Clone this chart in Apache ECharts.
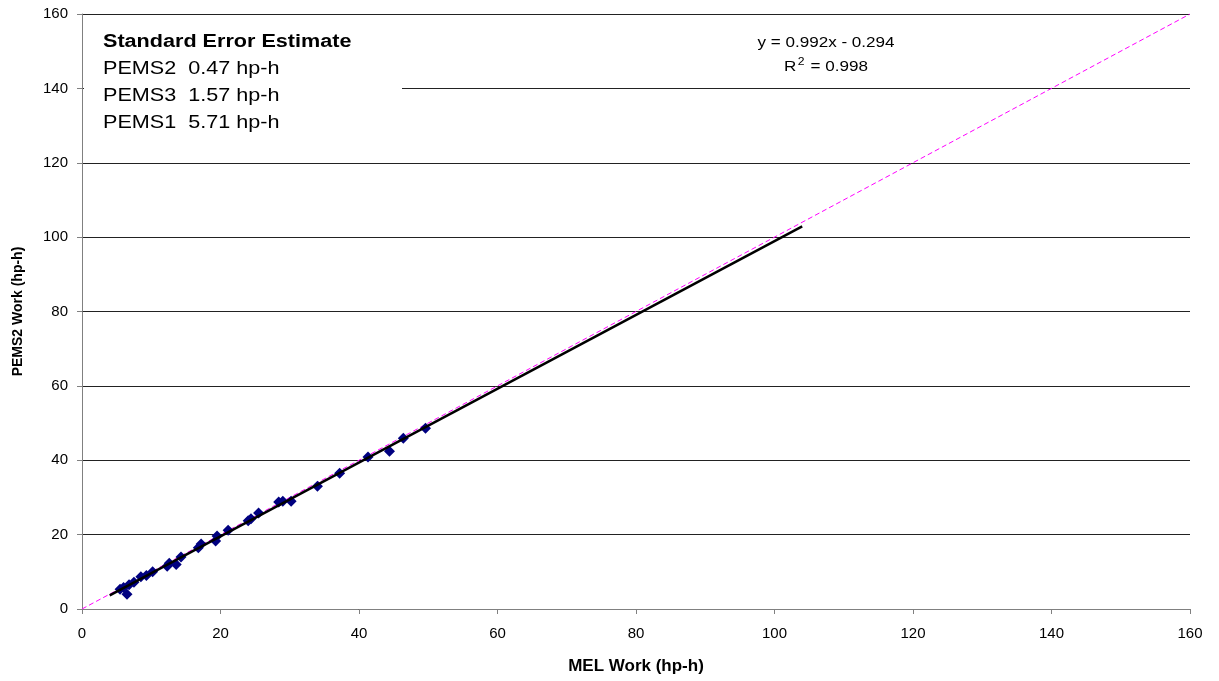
<!DOCTYPE html>
<html>
<head>
<meta charset="utf-8">
<script src="https://cdn.jsdelivr.net/npm/echarts@6/dist/echarts.min.js"></script>
<style>html,body{margin:0;padding:0;background:#fff;}#c{width:1219px;height:681px;}</style>
</head>
<body>
<div id="c"></div>
<script>
var melWork = [5.5, 6.0, 6.5, 6.8, 7.5, 8.5, 9.3, 10.2, 12.3, 12.6, 13.6, 14.3, 16.8, 17.2, 19.3, 19.5, 21.1, 24.0, 24.4, 25.5, 28.4, 29.0, 30.2, 34.0, 37.2, 41.3, 44.4, 46.4, 49.6];
var pems2Work = [5.3, 5.8, 4.0, 6.5, 7.2, 8.7, 9.0, 10.0, 11.5, 12.3, 12.0, 14.0, 16.5, 17.5, 18.3, 19.6, 21.2, 23.7, 24.3, 25.8, 28.8, 29.0, 29.0, 33.0, 36.5, 40.9, 42.4, 45.9, 48.6];
var trendLine = [[4, 3.67], [104, 102.9]];
var oneToOne = [[0, 0], [160, 160]];
var xTicks = [0, 20, 40, 60, 80, 100, 120, 140, 160];
var yTicks = [0, 20, 40, 60, 80, 100, 120, 140, 160];
var statsTitle = 'Standard Error Estimate';
var statsLines = ['PEMS2  0.47 hp-h', 'PEMS3  1.57 hp-h', 'PEMS1  5.71 hp-h'];
var eqLine = 'y = 0.992x - 0.294';
var r2Value = '0.998';

var pts = melWork.map(function (x, i) { return [x, pems2Work[i]]; });
var chart = echarts.init(document.getElementById('c'), null, {renderer: 'canvas'});
var font = 'Liberation Sans, Arial, sans-serif';
function txt(x, y, s, f, sx) {
  return {type: 'text', x: x, y: y, scaleX: sx, z: 11,
    style: {text: s, font: f, fill: '#000', verticalAlign: 'middle', align: 'left'}};
}
chart.setOption({
  animation: false,
  backgroundColor: '#fff',
  grid: {left: 82, right: 29, top: 14, bottom: 72, containLabel: false},
  xAxis: {
    type: 'value', min: xTicks[0], max: xTicks[xTicks.length - 1], interval: 20,
    name: 'MEL Work (hp-h)', nameLocation: 'middle', nameGap: 49,
    nameTextStyle: {fontFamily: font, fontSize: 17, fontWeight: 'bold', color: '#000'},
    axisLine: {lineStyle: {color: '#808080', width: 1}},
    axisTick: {show: true, inside: false, length: 5, lineStyle: {color: '#808080'}},
    axisLabel: {fontFamily: font, fontSize: 15, color: '#000', margin: 17},
    splitLine: {show: false}
  },
  yAxis: {
    type: 'value', min: yTicks[0], max: yTicks[yTicks.length - 1], interval: 20,
    name: 'PEMS2 Work (hp-h)', nameLocation: 'middle', nameGap: 57,
    nameTextStyle: {fontFamily: font, fontSize: 14, fontWeight: 'bold', color: '#000'},
    axisLine: {show: true, lineStyle: {color: '#808080', width: 1}},
    axisTick: {show: true, inside: false, length: 5, lineStyle: {color: '#808080'}},
    axisLabel: {fontFamily: font, fontSize: 15, color: '#000', margin: 14},
    splitLine: {show: true, lineStyle: {color: '#222', width: 1}}
  },
  series: [
    {
      type: 'line', data: oneToOne, symbol: 'none', z: 2,
      lineStyle: {color: '#ff00ff', width: 1, type: [5, 3]}
    },
    {
      type: 'scatter', data: pts, symbol: 'diamond', symbolSize: 11, z: 3,
      itemStyle: {color: '#000080', opacity: 1}
    },
    {
      type: 'line', data: trendLine, symbol: 'none', z: 4,
      lineStyle: {color: '#000', width: 2.5}
    }
  ],
  graphic: [
    {type: 'rect', left: 84, top: 24, shape: {width: 318, height: 112}, style: {fill: '#fff'}, z: 10},
    txt(103, 42, statsTitle, 'bold 18px ' + font, 1.2),
    txt(103, 69.5, statsLines[0], '18px ' + font, 1.2),
    txt(103, 96, statsLines[1], '18px ' + font, 1.2),
    txt(103, 123, statsLines[2], '18px ' + font, 1.2),
    {type: 'text', x: 826, y: 43, scaleX: 1.22, z: 11,
      style: {text: eqLine, font: '14px ' + font, fill: '#000', align: 'center', verticalAlign: 'middle'}},
    {type: 'text', x: 826, y: 67, scaleX: 1.22, z: 11,
      style: {text: '{t|R}{s|2}{t| = ' + r2Value + '}', align: 'center', verticalAlign: 'middle',
        rich: {t: {font: '14px ' + font, fill: '#000', color: '#000'},
               s: {font: '10px ' + font, fill: '#000', color: '#000', verticalAlign: 'top', padding: [0, 1, 10, 1]}}}}
  ]
});
</script>
</body>
</html>
